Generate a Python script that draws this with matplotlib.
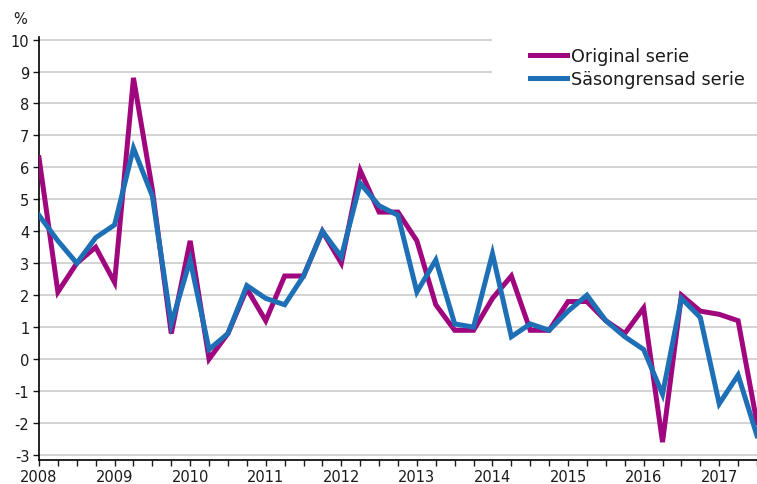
import matplotlib
matplotlib.use('Agg')
import matplotlib.pyplot as plt
from matplotlib.patches import Rectangle
from matplotlib.ticker import MultipleLocator

# quarterly data, 2008Q1 .. 2017Q3
years = ['2008', '2009', '2010', '2011', '2012', '2013', '2014', '2015',
         '2016', '2017']
original = [6.3, 2.1, 3.0, 3.5, 2.4, 8.8, 5.3, 0.8, 3.7, 0.0, 0.8, 2.2,
            1.2, 2.6, 2.6, 4.0, 3.0, 5.9, 4.6, 4.6, 3.7, 1.7, 0.9, 0.9,
            1.9, 2.6, 0.9, 0.9, 1.8, 1.8, 1.2, 0.8, 1.6, -2.6, 2.0, 1.5,
            1.4, 1.2, -2.0]
seasonal = [4.5, 3.7, 3.0, 3.8, 4.2, 6.6, 5.1, 1.1, 3.1, 0.3, 0.8, 2.3,
            1.9, 1.7, 2.6, 4.0, 3.2, 5.5, 4.8, 4.5, 2.1, 3.1, 1.1, 1.0,
            3.3, 0.7, 1.1, 0.9, 1.5, 2.0, 1.2, 0.7, 0.3, -1.1, 1.9, 1.3,
            -1.4, -0.5, -2.4]
labels = ['Original serie', 'Säsongrensad serie']
colors = ['#A0067E', '#1D6FB6']

plt.rcParams['font.family'] = ['DejaVu Sans']
plt.rcParams['axes.unicode_minus'] = False

W, H = 757, 485
fig = plt.figure(figsize=(W / 100, H / 100), dpi=100)
ax = fig.add_axes([39 / W, 1 - 460.7 / H, 718 / W, 422.7 / H])

x = list(range(len(original)))
ax.plot(x, original, color=colors[0], lw=3.6, solid_joinstyle='miter',
        label=labels[0], zorder=3)
ax.plot(x, seasonal, color=colors[1], lw=3.6, solid_joinstyle='miter',
        label=labels[1], zorder=4)

ax.set_xlim(0, len(original) - 1)
ax.set_ylim(-3.15, 10.08)
ax.set_yticks(range(-3, 11))
ax.set_xticks(range(0, len(original), 4))
ax.set_xticklabels(years)
ax.xaxis.set_minor_locator(MultipleLocator(1))

ax.grid(axis='y', color='#cccccc', lw=1.2, zorder=0)
ax.set_axisbelow(True)
for s in ['top', 'right']:
    ax.spines[s].set_visible(False)
for s in ['left', 'bottom']:
    ax.spines[s].set_linewidth(1.2)
    ax.spines[s].set_color('black')

ax.tick_params(axis='both', which='both', length=4, width=1, labelsize=10.5,
               colors='#1a1a1a')
ax.tick_params(axis='x', pad=3)
ax.tick_params(axis='y', pad=3)

# white box behind the legend hides the top grid lines
ax.add_patch(Rectangle((0.631, 0.865), 0.37, 0.2, transform=ax.transAxes,
                       facecolor='white', edgecolor='none', zorder=1,
                       clip_on=False))

leg = fig.legend(loc='upper left', bbox_to_anchor=(530 / W, 1 - 48 / H),
                 frameon=False, fontsize=12.7, handlelength=2.1,
                 handletextpad=0.25, borderpad=0, borderaxespad=0,
                 labelspacing=0.3)
for t in leg.get_texts():
    t.set_color('#1a1a1a')

fig.text(13 / W, 1 - 19 / H, '%', fontsize=10.5, va='center', ha='left',
         color='#1a1a1a')

fig.savefig('out.png', dpi=100)
